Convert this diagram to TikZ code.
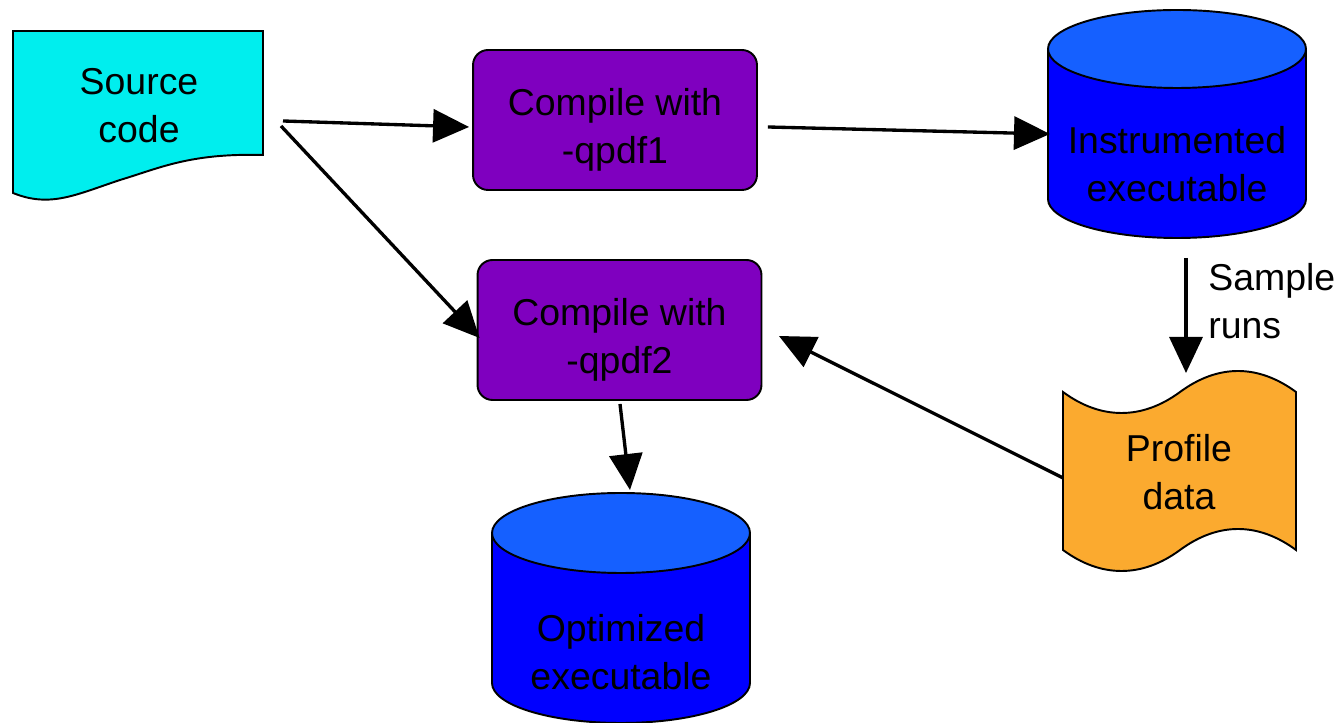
\documentclass[tikz,border=0pt]{standalone}
\usepackage{fontspec}
\setmainfont{Liberation Sans}
\usetikzlibrary{arrows.meta, calc}
\usepackage{xcolor}
\definecolor{xcyan}{HTML}{00EEEE}
\definecolor{xpurple}{HTML}{7F00BF}
\definecolor{xblue}{HTML}{0000FF}
\definecolor{xlightblue}{HTML}{1560FF}
\definecolor{xorange}{HTML}{FBAA2F}

\begin{document}
\begin{tikzpicture}[x=0.02cm, y=0.02cm,
		txt/.style={inner sep=0pt, align=center, font=\fontsize{21.3}{27.3}\selectfont},
		stepbox/.style={draw, line width=1.1pt, fill=xpurple, rounded corners=0.3cm, minimum width=5.68cm, minimum height=2.8cm},
		outline/.style={draw, line width=1.1pt},
		flow/.style={line width=1.9pt, -{Triangle[length=0.72cm, width=0.66cm]}},
	]
		\useasboundingbox (0,0) rectangle (1339,723);

		% source code
		\path[outline, fill=xcyan] (13,692) -- (263,692) -- (263,568) .. controls (190,570) and (160,555) .. (120,543) .. controls (75,528) and (50,515) .. (13,530) -- cycle;
		\node[txt] (src) at (139,617) {Source\\code};

		% compile steps
		\node[stepbox] (c1) at (615,603) {};
		\node[txt] (c1text) at ($(c1)+(0,-10)$) {Compile with\\-qpdf1};
		\node[stepbox] (c2) at (619.5,393) {};
		\node[txt] (c2text) at ($(c2)+(0,-10)$) {Compile with\\-qpdf2};

		% instrumented executable
		\path[outline, fill=xblue] (1048,674) -- (1048,524) arc[start angle=180, end angle=360, x radius=129, y radius=39] -- (1306,674) -- cycle;
		\path[outline, fill=xlightblue] (1177,674) ellipse [x radius=129, y radius=39];
		\node[txt] (ins) at (1177,559) {Instrumented\\executable};

		% optimized executable
		\path[outline, fill=xblue] (492,190) -- (492,40) arc[start angle=180, end angle=360, x radius=129, y radius=40] -- (750,190) -- cycle;
		\path[outline, fill=xlightblue] (621,190) ellipse [x radius=129, y radius=40];
		\node[txt] (opt) at (621,71) {Optimized\\executable};

		% profile data
		\path[outline, fill=xorange] (1063,331) .. controls (1101,303) and (1142,303) .. (1180,331) .. controls (1218,359) and (1258,359) .. (1296,331) -- (1296,173) .. controls (1258,201) and (1218,201) .. (1180,173) .. controls (1142,145) and (1101,145) .. (1063,173) -- cycle;
		\node[txt] (prof) at (1179,251) {Profile\\data};

		\node[txt, anchor=west, align=left] (runs) at (1208,422) {Sample\\runs};

		\draw[flow] ($(src)+(144,-15)$) -- ($(c1.west)+(-3,-7)$);
		\draw[flow] ($(src)+(142,-20)$) -- ($(c2.west)+(3,-8)$);
		\draw[flow] ($(c1.east)+(10,-7)$) -- ($(ins)+(-127,30)$);
		\draw[flow] ($(ins)+(9,-94)$) -- ($(prof)+(7,99)$);
		\draw[flow] ($(prof)+(-116,-6)$) -- ($(c2.east)+(16.5,-6)$);
		\draw[flow] ($(c2.south)+(0.5,-3)$) -- ($(opt)+(9,162)$);
	\end{tikzpicture}
\end{document}
